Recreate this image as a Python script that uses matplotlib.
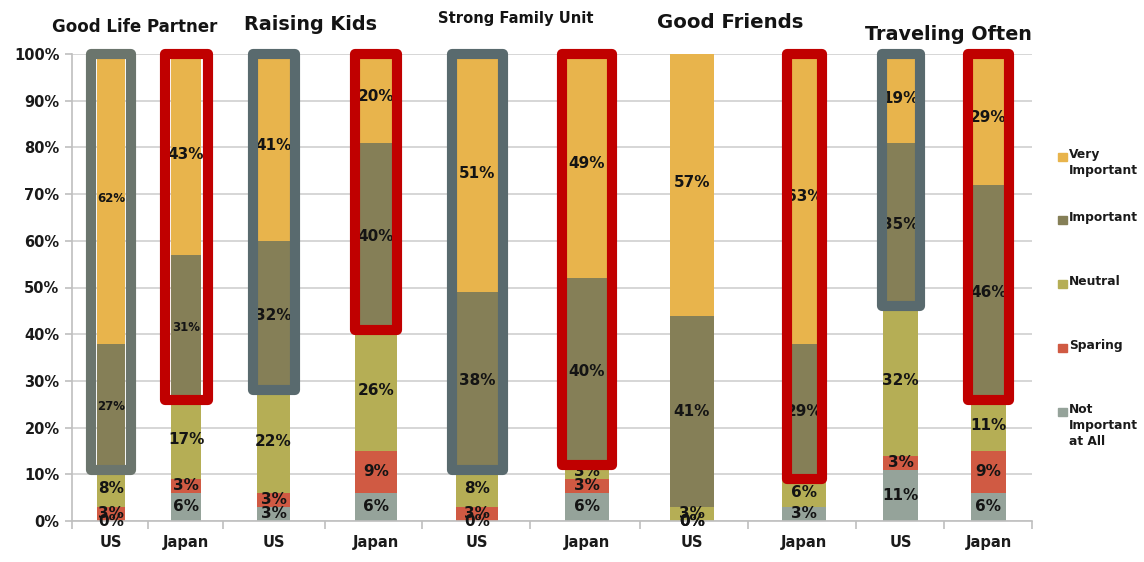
import numpy as np
import matplotlib
matplotlib.use("Agg")
import matplotlib.pyplot as plt
from matplotlib.patches import Rectangle

# survey answers, one value per bar (US / Japan for each topic)
topics = ["Good Life Partner", "Raising Kids", "Strong Family Unit", "Good Friends", "Traveling Often"]
countries = ["US", "Japan"]
levels = ["Not\nImportant\nat All", "Sparing", "Neutral", "Important", "Very\nImportant"]

not_important = [0, 6, 3, 6, 0, 6, 0, 3, 11, 6]
sparing = [3, 3, 3, 9, 3, 3, 0, None, 3, 9]
neutral = [8, 17, 22, 26, 8, 3, 3, 6, 32, 11]
important = [27, 31, 32, 40, 38, 40, 41, 29, 35, 46]
very_important = [62, 43, 41, 20, 51, 49, 57, 63, 19, 29]

# layout (x in pixel-like units across the axes)
bar_x = [111, 186, 273.5, 376, 477, 587, 692, 804, 900.5, 988.5]
bar_w = [28, 30, 33, 42, 42, 44, 44, 44, 35, 35]
box_hw = [20, 21.5, 21, 21, 25.5, 25, None, 17.5, 19, 20.5]
box_col = ["#6B756D", "#C00000", "#596A6E", "#C00000", "#596A6E", "#C00000",
           None, "#C00000", "#596A6E", "#C00000"]
separators = [72, 148, 223, 325, 422, 530, 640, 748, 856, 944, 1032]
small_labels = {(0, 3), (0, 4), (1, 3)}
titles_pos = [(135, 27, 12), (310, 25, 13.8), (516, 18, 10.6), (730, 22, 14.2), (948, 35, 13.8)]

colors = ["#95A39A", "#D05A43", "#B5AE55", "#857F57", "#E8B44C"]
series = [not_important, sparing, neutral, important, very_important]

W, H = 1144, 562
plt.rcParams["font.family"] = ["DejaVu Sans"]
fig = plt.figure(figsize=(W / 100, H / 100), dpi=100)
ax = fig.add_axes([72 / W, 1 - 521 / H, 960 / W, 467 / H])


def fx(px):
    return px / W


def fy(py):
    return 1 - py / H


vals = np.array([[np.nan if v is None else v for v in s] for s in series], dtype=float)
bottoms = np.zeros(len(bar_x))
for li, row in enumerate(vals):
    h = np.nan_to_num(row)
    ax.bar(bar_x, h, width=bar_w, bottom=bottoms, color=colors[li], zorder=2)
    for i, v in enumerate(row):
        if np.isnan(v):
            continue
        size = 8.5 if (i, li) in small_labels else 11
        ax.text(bar_x[i], bottoms[i] + v / 2, f"{int(v)}%", ha="center", va="center",
                fontsize=size, fontweight="bold", color="#141414", zorder=3)
    bottoms += h

# highlight frames around the important answers
lower = np.nan_to_num(vals[:3]).sum(axis=0)
for i, hw in enumerate(box_hw):
    if hw is None:
        continue
    ax.add_patch(Rectangle((bar_x[i] - hw, lower[i]), 2 * hw, 100 - lower[i],
                           fill=False, edgecolor=box_col[i], linewidth=7.3,
                           joinstyle="round", zorder=4, clip_on=False))

ax.set_xlim(72, 1032)
ax.set_ylim(0, 100)
ax.set_yticks(np.arange(0, 101, 10))
ax.set_yticklabels([f"{t}%" for t in range(0, 101, 10)], fontsize=10.5,
                   fontweight="bold", color="#1a1a1a")
ax.tick_params(axis="y", length=5, color="#BFBFBF", width=1.2, pad=4)
ax.set_xticks(bar_x)
ax.set_xticklabels(countries * len(topics), fontsize=10.5, fontweight="bold", color="#1a1a1a")
ax.tick_params(axis="x", which="major", length=0, pad=10)
ax.set_xticks(separators, minor=True)
ax.tick_params(axis="x", which="minor", length=6, color="#BFBFBF", width=1.2)
ax.grid(axis="y", color="#CFCFCF", linewidth=1.2, zorder=0)
ax.set_axisbelow(True)
for side in ["top", "right"]:
    ax.spines[side].set_visible(False)
for side in ["left", "bottom"]:
    ax.spines[side].set_color("#BFBFBF")
    ax.spines[side].set_linewidth(1.2)

for name, (x, y, s) in zip(topics, titles_pos):
    fig.text(fx(x), fy(y), name, ha="center", va="center", fontsize=s,
             fontweight="bold", color="#141414")

# legend on the right, top entry first
legend_y = [157, 220, 284, 348, 412]
for li, y in zip(range(len(levels) - 1, -1, -1), legend_y):
    fig.patches.append(Rectangle((fx(1058), fy(y + 4)), 9 / W, 8 / H, color=colors[li],
                                 transform=fig.transFigure, figure=fig))
    fig.text(fx(1069), fy(y - 9), levels[li], ha="left", va="top",
             fontsize=8.8, fontweight="bold", color="#1a1a1a", linespacing=1.3)

fig.savefig("out.png", dpi=100)
